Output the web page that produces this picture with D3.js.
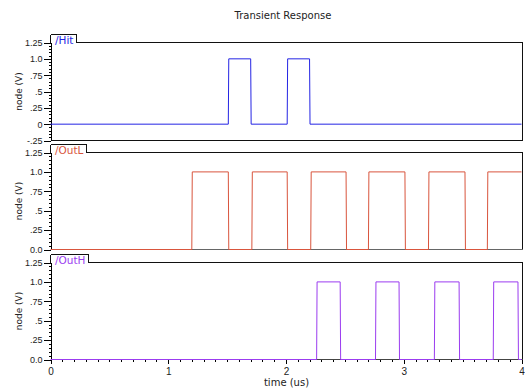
<!DOCTYPE html>
<html>
<head>
<meta charset="utf-8">
<script src="https://cdn.jsdelivr.net/npm/d3@7"></script>
<style>
  body { margin: 0; background: #fff; }
  svg { display: block; font-family: "DejaVu Sans", Verdana, sans-serif; }
  .axis path, .axis line { stroke: #000; shape-rendering: crispEdges; }
  .axis text { fill: #222; }
  .border { fill: none; stroke: #111; shape-rendering: crispEdges; }
  .trace { fill: none; stroke-width: 1; }
</style>
</head>
<body>
<div id="chart"></div>
<script>
// time axis (us)
var time_domain = [0, 4];
var time_ticks  = [0, 1, 2, 3, 4];

// pulses: [rise, fall] in us
var hit_pulses  = [[1.51, 1.70], [2.01, 2.20]];
var outl_pulses = [[1.20, 1.51], [1.71, 2.01], [2.21, 2.51], [2.70, 3.01], [3.21, 3.52], [3.71, 4.00]];
var outh_pulses = [[2.26, 2.46], [2.76, 2.96], [3.26, 3.47], [3.76, 3.97]];
var high_level  = 1.0;

// y tick labels
var hit_ticks  = [-0.25, 0, 0.25, 0.5, 0.75, 1.0, 1.25];
var hit_labels = ['-.25', '0', '.25', '.5', '.75', '1.0', '1.25'];
var out_ticks  = [0, 0.25, 0.5, 0.75, 1.0, 1.25];
var out_labels = ['0.0', '.25', '.5', '.75', '1.0', '1.25'];

var W = 525, H = 389;
var left = 50.5, right = 521.5, frame_right = 522.5;
var edge = 0.004;

function waveform(pulses) {
  var pts = [[time_domain[0], 0]];
  var high = false;
  pulses.forEach((p) => {
    pts.push([p[0], 0]);
    pts.push([p[0] + edge, high_level]);
    if (p[1] >= time_domain[1]) {
      pts.push([time_domain[1], high_level]);
      high = true;
    } else {
      pts.push([p[1], high_level]);
      pts.push([p[1] + edge, 0]);
    }
  });
  if (!high) pts.push([time_domain[1], 0]);
  return pts;
}

var panels = [
  { name: '/Hit',  color: '#2424e4', pulses: hit_pulses,  domain: [-0.25, 1.25], ticks: hit_ticks, labels: hit_labels,
    top: 42.5,  bottom: 140.5, bottom_stroke: '#111' },
  { name: '/OutL', color: '#d9553d', pulses: outl_pulses, domain: [0, 1.25], ticks: out_ticks, labels: out_labels,
    top: 152.5, bottom: 249.5, bottom_stroke: '#666' },
  { name: '/OutH', color: '#9b3cf0', pulses: outh_pulses, domain: [0, 1.25], ticks: out_ticks, labels: out_labels,
    top: 262.5, bottom: 359.5, bottom_stroke: '#444' }
];

var svg = d3.select('#chart').append('svg')
  .attr('width', W)
  .attr('height', H);

var x = d3.scaleLinear()
  .domain(time_domain)
  .range([left, right]);

svg.append('text')
  .attr('x', 283)
  .attr('y', 19)
  .attr('text-anchor', 'middle')
  .style('font-size', '10px')
  .style('fill', '#222')
  .text('Transient Response');

panels.forEach((p) => {
  var y = d3.scaleLinear()
    .domain(p.domain)
    .range([p.bottom, p.top]);

  var g = svg.append('g').attr('class', 'panel');

  // name tab
  var label = g.append('text')
    .attr('x', left + 4.5)
    .attr('y', p.top + 1.5)
    .style('font-size', '10.5px')
    .style('fill', p.color)
    .text(p.name);

  var tab_right = Math.round(left + 4.5 + label.node().getComputedTextLength() + 3) + 0.5;

  g.append('path')
    .attr('class', 'border')
    .attr('d', `M${left},${p.top - 8}H${tab_right}V${p.top}H${frame_right}V${p.bottom}`);

  g.append('line')
    .attr('class', 'border')
    .attr('x1', left).attr('x2', left)
    .attr('y1', p.top - 8).attr('y2', p.top);

  if (p.bottom_stroke) {
    g.append('line')
      .attr('class', 'border')
      .style('stroke', p.bottom_stroke)
      .attr('x1', left).attr('x2', frame_right)
      .attr('y1', p.bottom).attr('y2', p.bottom);
  }

  // y axis, minor then major
  g.append('g')
    .attr('class', 'axis')
    .attr('transform', `translate(${left},0)`)
    .call(d3.axisLeft(y)
      .tickValues(d3.range(p.domain[0], p.domain[1] + 0.001, 0.05))
      .tickSize(2)
      .tickSizeOuter(0)
      .tickFormat(''));

  g.append('g')
    .attr('class', 'axis')
    .attr('transform', `translate(${left},0)`)
    .call(d3.axisLeft(y)
      .tickValues(p.ticks)
      .tickSize(7)
      .tickSizeOuter(0)
      .tickPadding(1)
      .tickFormat((d, i) => p.labels[i]))
    .selectAll('text')
    .style('font-size', '9px');

  g.append('text')
    .attr('transform', `translate(22,${(p.top + p.bottom) / 2}) rotate(-90)`)
    .attr('text-anchor', 'middle')
    .style('font-size', '9px')
    .style('fill', '#222')
    .text('node (V)');

  var line = d3.line()
    .x((d) => x(d[0]))
    .y((d) => y(d[1]));

  g.append('path')
    .datum(waveform(p.pulses))
    .attr('class', 'trace')
    .attr('stroke', p.color)
    .attr('d', line);
});

// time axis
var bottom = panels[2].bottom;

svg.append('g')
  .attr('class', 'axis')
  .attr('transform', `translate(0,${bottom})`)
  .call(d3.axisBottom(x)
    .tickValues(d3.range(time_domain[0], time_domain[1] + 0.001, 0.1))
    .tickSize(2)
    .tickSizeOuter(0)
    .tickFormat(''))
  .select('.domain').remove();

svg.append('g')
  .attr('class', 'axis')
  .attr('transform', `translate(0,${bottom})`)
  .call(d3.axisBottom(x)
    .tickValues(time_ticks)
    .tickSize(4)
    .tickSizeOuter(0)
    .tickPadding(4)
    .tickFormat(d3.format('d')))
  .call((a) => a.select('.domain').remove())
  .selectAll('text')
  .style('font-size', '10px');

svg.append('text')
  .attr('x', (left + frame_right) / 2)
  .attr('y', 386)
  .attr('text-anchor', 'middle')
  .style('font-size', '10px')
  .style('fill', '#222')
  .text('time (us)');

// redraw traces over the bottom axis line
svg.selectAll('.trace').raise();
</script>
</body>
</html>
